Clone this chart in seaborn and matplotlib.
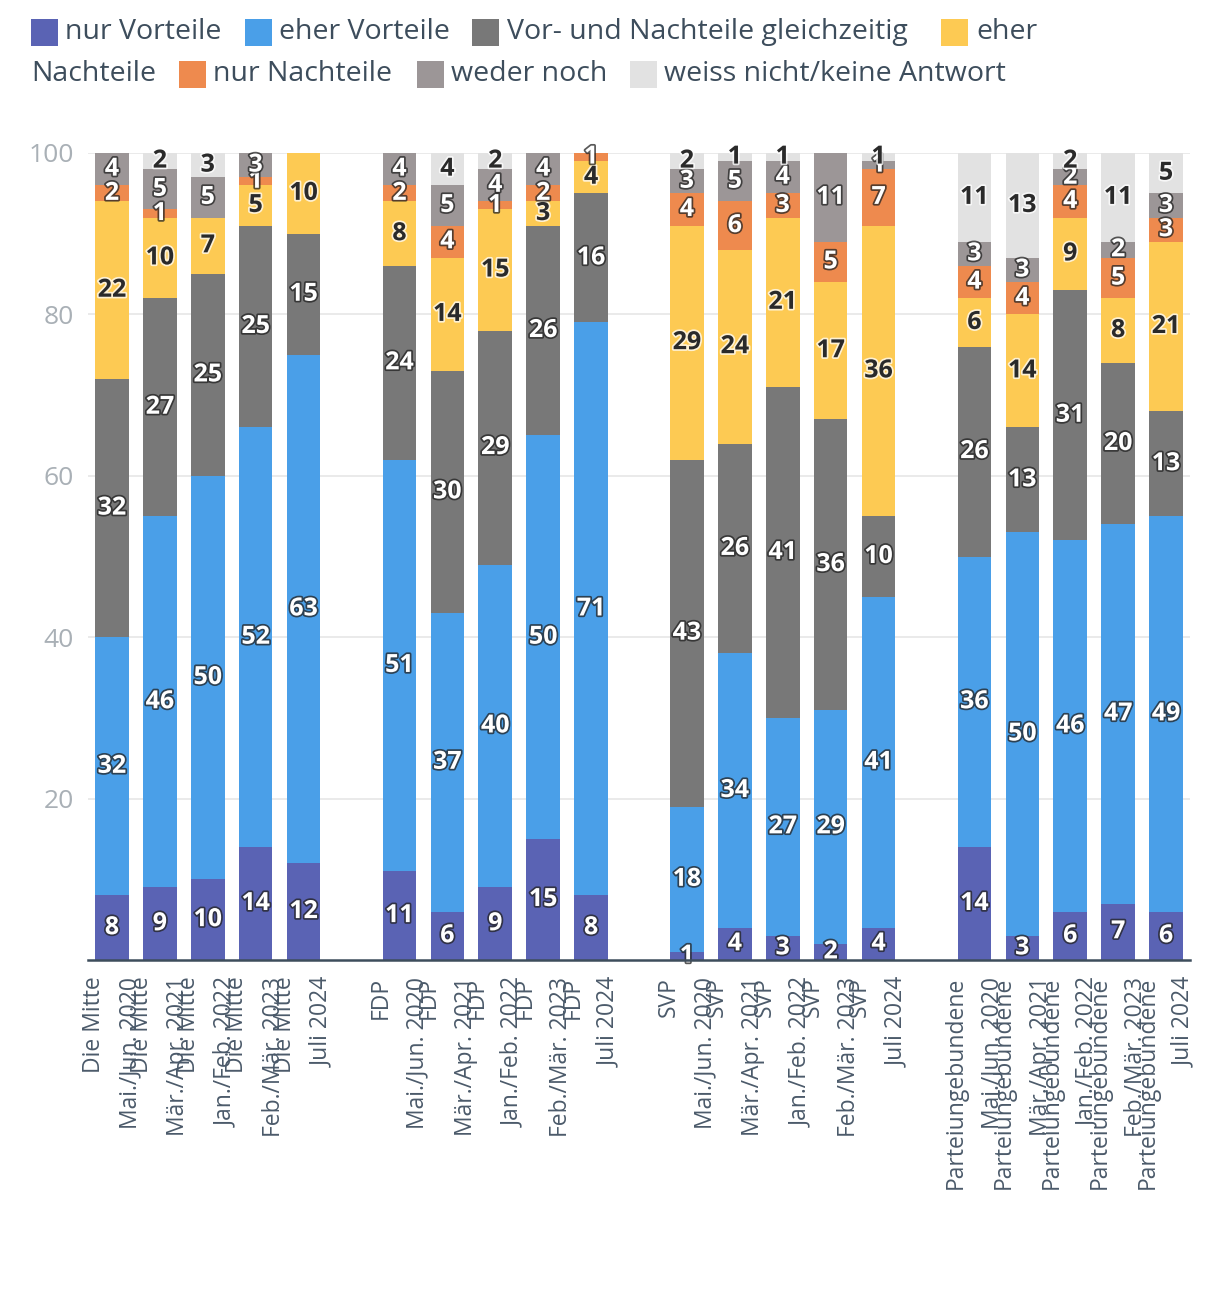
import matplotlib
matplotlib.use("Agg")
import matplotlib.pyplot as plt
import matplotlib.patheffects as pe
from matplotlib.patches import Rectangle
import numpy as np
import pandas as pd
import seaborn as sns

# ---------------- data ----------------
groups = ["Die Mitte", "FDP", "SVP", "Parteiungebundene"]
waves = ["Mai./Jun. 2020", "Mär./Apr. 2021", "Jan./Feb. 2022", "Feb./Mär. 2023", "Juli 2024"]

series_names = ["nur Vorteile", "eher Vorteile", "Vor- und Nachteile gleichzeitig",
                "eher Nachteile", "nur Nachteile", "weder noch", "weiss nicht/keine Antwort"]

nur_vorteile   = [8, 9, 10, 14, 12,   11, 6, 9, 15, 8,    1, 4, 3, 2, 4,     14, 3, 6, 7, 6]
eher_vorteile  = [32, 46, 50, 52, 63, 51, 37, 40, 50, 71, 18, 34, 27, 29, 41, 36, 50, 46, 47, 49]
beides         = [32, 27, 25, 25, 15, 24, 30, 29, 26, 16, 43, 26, 41, 36, 10, 26, 13, 31, 20, 13]
eher_nachteile = [22, 10, 7, 5, 10,   8, 14, 15, 3, 4,    29, 24, 21, 17, 36, 6, 14, 9, 8, 21]
nur_nachteile  = [2, 1, 0, 1, 0,      2, 4, 1, 2, 1,      4, 6, 3, 5, 7,     4, 4, 4, 5, 3]
weder_noch     = [4, 5, 5, 3, 0,      4, 5, 4, 4, 0,      3, 5, 4, 11, 1,    3, 3, 2, 2, 3]
weiss_nicht    = [0, 2, 3, 0, 0,      0, 4, 2, 0, 0,      2, 1, 1, 0, 1,     11, 13, 2, 11, 5]

series_values = [nur_vorteile, eher_vorteile, beides, eher_nachteile,
                 nur_nachteile, weder_noch, weiss_nicht]

colors = ["#5a63b4", "#4a9fe8", "#787878", "#fdca53", "#ee8a4e", "#9c9697", "#e2e2e2"]
dark_label = [False, False, False, True, False, False, True]

# ---------------- layout of slots ----------------
positions = []
tick_labels = []
for gi, g in enumerate(groups):
    for wi, w in enumerate(waves):
        positions.append(gi * 6 + wi)
        tick_labels.append(f"{g}\n{w}")

vals = np.array(series_values, dtype=float)
cum = np.cumsum(vals, axis=0)

rows = []
for si, name in enumerate(series_names):
    for j, p in enumerate(positions):
        rows.append({"pos": p, "series": name, "value": vals[si, j], "cum": cum[si, j]})
df = pd.DataFrame(rows)

# ---------------- figure ----------------
sns.set_theme(style="white")
plt.rcParams["font.family"] = ["Open Sans", "DejaVu Sans"]

fig = plt.figure(figsize=(12.2, 13), dpi=100)
ax = fig.add_axes([88 / 1220, 1 - 960 / 1300, (1190 - 88) / 1220, (960 - 153) / 1300])

for y in [20, 40, 60, 80, 100]:
    ax.axhline(y, color="#e6e6e6", lw=1.2, zorder=0)

# stacked bars via cumulative overlap (top series first)
for si in range(len(series_names) - 1, -1, -1):
    sub = df[df["series"] == series_names[si]]
    sns.barplot(data=sub, x="pos", y="cum", native_scale=True, color=colors[si],
                saturation=1, width=0.7, linewidth=0, errorbar=None, ax=ax, zorder=2)

# value labels
for si in range(len(series_names)):
    for j, p in enumerate(positions):
        v = vals[si, j]
        if v <= 0:
            continue
        yc = cum[si, j] - v / 2
        if dark_label[si]:
            tc, sc = "#2a2a2a", "#ffffff"
        else:
            tc, sc = "#ffffff", "#222222"
        ax.text(p, yc, f"{int(v)}", ha="center", va="center", fontsize=18,
                fontweight="bold", color=tc, zorder=5,
                path_effects=[pe.withStroke(linewidth=2.5, foreground=sc, alpha=0.75)])

ax.set_xlim(-0.5, 22.5)
ax.set_ylim(0, 100)
ax.set_xlabel("")
ax.set_ylabel("")
ax.set_yticks([20, 40, 60, 80, 100])
ax.set_yticklabels(["20", "40", "60", "80", "100"], fontsize=19, color="#a9b0b6")
ax.set_xticks(positions)
ax.set_xticklabels(tick_labels, rotation=90, ha="center", va="top",
                   multialignment="right", fontsize=16.5, color="#4b5a6a", linespacing=1.7)
ax.tick_params(axis="y", length=0, pad=10)
ax.tick_params(axis="x", length=0, pad=12)
for s in ["left", "right", "top"]:
    ax.spines[s].set_visible(False)
ax.spines["bottom"].set_color("#3d4d5c")
ax.spines["bottom"].set_linewidth(1.8)
ax.spines["bottom"].set_zorder(6)
ax.grid(False)

# ---------------- legend (manual, wrapped like reference) ----------------
W, H = 1220, 1300
leg_color = "#3d4d5c"
sq = 27
legend_items = [
    # (square_x, text_x, row_center_y, label, color_index)
    (31, 65, 32, "nur Vorteile", 0),
    (245, 279, 32, "eher Vorteile", 1),
    (472, 507, 32, "Vor- und Nachteile gleichzeitig", 2),
    (941, 976, 32, "eher", 3),
    (179, 213, 74, "nur Nachteile", 4),
    (417, 451, 74, "weder noch", 5),
    (630, 664, 74, "weiss nicht/keine Antwort", 6),
]
for sx, tx, cy, lab, ci in legend_items:
    fig.patches.append(Rectangle((sx / W, 1 - (cy + sq / 2) / H), sq / W, sq / H,
                                 transform=fig.transFigure, facecolor=colors[ci],
                                 edgecolor="none"))
    fig.text(tx / W, 1 - cy / H, lab, ha="left", va="center", fontsize=20.5, color=leg_color)
fig.text(31 / W, 1 - 74 / H, "Nachteile", ha="left", va="center", fontsize=20.5, color=leg_color)

fig.savefig("out.png", dpi=100)
